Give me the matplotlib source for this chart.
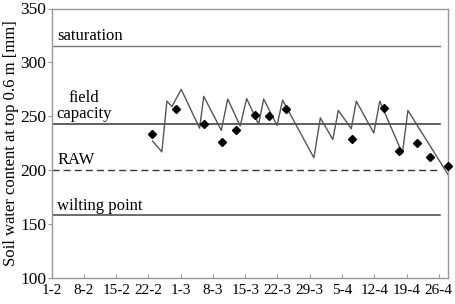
import matplotlib
matplotlib.use("Agg")
import matplotlib.pyplot as plt

# x in days since 1 Feb
tick_days = [0, 7, 14, 21, 28, 35, 42, 49, 56, 63, 70, 77, 84]
tick_labels = ["1-2", "8-2", "15-2", "22-2", "1-3", "8-3", "15-3", "22-3",
               "29-3", "5-4", "12-4", "19-4", "26-4"]

# simulated soil water content (line vertices)
sim_days = [21.9, 23.9, 25.0, 26.1, 28.1, 32.1, 33.0, 36.8, 38.2, 40.9, 42.3,
            44.9, 46.0, 48.9, 50.1, 56.9, 58.3, 61.0, 62.2, 65.0, 66.1,
            69.9, 71.2, 76.1, 77.3, 86.0]
sim_vals = [227, 217, 264, 259, 275, 239, 268.5, 237, 266, 241, 266.5,
            242.5, 266, 241.5, 265, 211.5, 248.5, 228.5, 255.5, 238.5, 264,
            234.5, 264, 215.5, 255.5, 196]

# measured values (diamonds)
obs_days = [21.7, 27.0, 33.0, 37.0, 40.1, 44.2, 47.1, 50.9, 65.1, 72.1, 75.4, 79.2, 82.0, 86.0]
obs_vals = [234, 257, 242.5, 226, 237, 251, 250, 257, 229, 258, 217.5, 225.5, 212, 204]

# reference levels
saturation = 315
field_capacity = 243
raw = 200
wilting_point = 158

plt.rcParams['font.family'] = ['Liberation Serif', 'DejaVu Serif']

fig = plt.figure(figsize=(4.56, 3.04), dpi=100)
ax = fig.add_axes([51.7/456, 1-278/304, (448-51.7)/456, (278-8.5)/304])

x_end = 84.3
ax.plot([0, x_end], [saturation]*2, color='#777777', lw=1.0)
ax.plot([0, x_end], [field_capacity]*2, color='#333333', lw=1.1)
ax.plot([0, x_end], [raw]*2, color='#333333', lw=1.0, ls=(0, (5, 3)))
ax.plot([0, x_end], [wilting_point]*2, color='#444444', lw=1.1)

ax.plot(sim_days, sim_vals, color='#555555', lw=1.0, clip_on=False)
ax.plot(obs_days, obs_vals, ls='none', marker='D', ms=4.3, color='black', clip_on=False, zorder=5)

fs = 12
ax.text(1.2, saturation + 2.0, "saturation", fontsize=fs, va='bottom', ha='left')
ax.text(1.0, field_capacity + 2.0, "field\ncapacity", fontsize=fs, va='bottom', ha='left',
        multialignment='center', linespacing=1.0)
ax.text(1.2, raw + 2.5, "RAW", fontsize=fs, va='bottom', ha='left')
ax.text(1.2, wilting_point + 1.5, "wilting point", fontsize=fs, va='bottom', ha='left')

ax.set_xlim(0, 86)
ax.set_ylim(100, 350)
ax.set_yticks([100, 150, 200, 250, 300, 350])
ax.set_xticks(tick_days)
ax.set_xticklabels(tick_labels)
ax.tick_params(axis='x', direction='in', length=3, color='#999999', labelsize=11, pad=4)
ax.tick_params(axis='y', direction='out', length=3, color='#999999', labelsize=12.5, pad=1)
for s in ax.spines.values():
    s.set_color('#999999')
    s.set_linewidth(1.0)
ax.set_ylabel("Soil water content at top 0.6 m [mm]", fontsize=12, labelpad=1)

fig.savefig("out.png", dpi=100)
